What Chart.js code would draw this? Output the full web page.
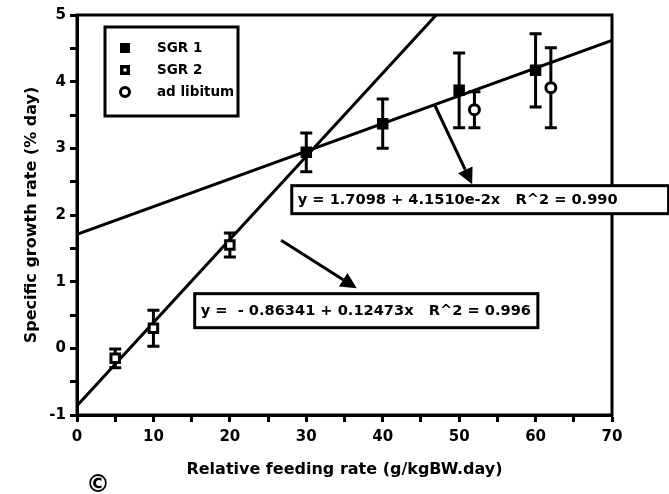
<!DOCTYPE html>
<html>
<head>
<meta charset="utf-8">
<script src="https://cdn.jsdelivr.net/npm/chart.js@4"></script>
<style>
  html, body { margin: 0; padding: 0; background: #fff; }
  #wrap { width: 669px; height: 494px; }
</style>
</head>
<body>
<div id="wrap"><canvas id="chart" width="669" height="494"></canvas></div>
<script>
// values
const sgr1X = [30, 40, 50, 60]
const sgr1Y = [2.94, 3.37, 3.87, 4.17]
const sgr1Err = [0.29, 0.37, 0.56, 0.55]

const sgr2X = [5, 10, 20]
const sgr2Y = [-0.15, 0.3, 1.55]
const sgr2Err = [0.14, 0.27, 0.18]

const adlibX = [52, 62]
const adlibY = [3.58, 3.91]
const adlibErr = [0.27, 0.6]

// regression lines, end points
const fit1X = [0, 70]
const fit1Y = [1.71, 4.62]
const fit2X = [0, 47]
const fit2Y = [-0.86, 5]

const fit1Label = "y = 1.7098 + 4.1510e-2x   R^2 = 0.990"
const fit2Label = "y =  - 0.86341 + 0.12473x   R^2 = 0.996"
const legendLabels = ["SGR 1", "SGR 2", "ad libitum"]

const xTickLabels = [0, 10, 20, 30, 40, 50, 60, 70]
const yTickLabels = [-1, 0, 1, 2, 3, 4, 5]

const FONT = "'DejaVu Sans', 'Liberation Sans', sans-serif"
const pts = (xs, ys) => xs.map((x, i) => ({ x: x, y: ys[i] }))

// draws error bars under the markers
const errorBars = {
  id: "errorBars",
  beforeDatasetsDraw(chart) {
    const ctx = chart.ctx
    const xs = chart.scales.x, ys = chart.scales.y
    ctx.save()
    ctx.strokeStyle = "#000"
    ctx.lineWidth = 3
    chart.data.datasets.forEach((ds) => {
      if (!ds.errors) return
      ds.data.forEach((p, i) => {
        const px = xs.getPixelForValue(p.x)
        const top = ys.getPixelForValue(p.y + ds.errors[i])
        const bot = ys.getPixelForValue(p.y - ds.errors[i])
        ctx.beginPath()
        ctx.moveTo(px, top); ctx.lineTo(px, bot)
        ctx.moveTo(px - 6, top); ctx.lineTo(px + 6, top)
        ctx.moveTo(px - 6, bot); ctx.lineTo(px + 6, bot)
        ctx.stroke()
      })
    })
    ctx.restore()
  },
}

function arrow(ctx, x1, y1, x2, y2) {
  const a = Math.atan2(y2 - y1, x2 - x1)
  const len = 16, w = 8
  const bx = x2 - len * Math.cos(a), by = y2 - len * Math.sin(a)
  ctx.beginPath()
  ctx.moveTo(x1, y1); ctx.lineTo(bx, by)
  ctx.stroke()
  ctx.beginPath()
  ctx.moveTo(x2, y2)
  ctx.lineTo(bx + w * Math.sin(a), by - w * Math.cos(a))
  ctx.lineTo(bx - w * Math.sin(a), by + w * Math.cos(a))
  ctx.closePath()
  ctx.fill()
}

function marker(ctx, kind, x, y) {
  ctx.fillStyle = "#000"
  ctx.strokeStyle = "#000"
  if (kind === 2) {
    ctx.beginPath()
    ctx.arc(x, y, 4.5, 0, Math.PI * 2)
    ctx.fillStyle = "#fff"
    ctx.fill()
    ctx.lineWidth = 3
    ctx.stroke()
    return
  }
  ctx.fillRect(x - 5, y - 5, 10, 10)
  if (kind === 1) {
    ctx.fillStyle = "#fff"
    ctx.fillRect(x - 1.5, y - 1.5, 3, 3)
  }
}

// frame, legend box, equation boxes and arrows
const annotations = {
  id: "annotations",
  afterDraw(chart) {
    const ctx = chart.ctx
    const a = chart.chartArea
    const X = (v) => chart.scales.x.getPixelForValue(v)
    const Y = (v) => chart.scales.y.getPixelForValue(v)
    ctx.save()
    ctx.strokeStyle = "#000"
    ctx.fillStyle = "#000"
    ctx.lineWidth = 3
    ctx.strokeRect(a.left, a.top, a.right - a.left, a.bottom - a.top)

    // legend
    const lx = a.left + 28, ly = a.top + 12
    ctx.fillStyle = "#fff"
    ctx.fillRect(lx, ly, 133, 89)
    ctx.strokeRect(lx, ly, 133, 89)
    ctx.font = "bold 13.5px " + FONT
    ctx.textBaseline = "middle"
    legendLabels.forEach((t, i) => {
      const yy = ly + 21 + i * 22
      marker(ctx, i, lx + 20, yy)
      ctx.fillStyle = "#000"
      ctx.fillText(t, lx + 52, yy)
    })

    // arrows
    ctx.lineWidth = 3
    ctx.strokeStyle = "#000"
    ctx.fillStyle = "#000"
    arrow(ctx, X(46.8), Y(3.65), X(51.7), Y(2.46))
    arrow(ctx, X(26.7), Y(1.62), X(36.6), Y(0.9))

    // equation boxes
    ctx.font = "bold 14.6px " + FONT
    ctx.textBaseline = "middle"
    const box = (x1, x2, y1, y2, label) => {
      const l = X(x1), r = X(x2), t = Y(y1), b = Y(y2)
      ctx.fillStyle = "#fff"
      ctx.fillRect(l, t, r - l, b - t)
      ctx.strokeRect(l, t, r - l, b - t)
      ctx.fillStyle = "#000"
      ctx.fillText(label, l + 6, (t + b) / 2 + 1)
    }
    box(28.1, 77.4, 2.44, 2.02, fit1Label)
    box(15.4, 60.3, 0.82, 0.31, fit2Label)

    ctx.font = "bold 24px " + FONT
    ctx.textBaseline = "top"
    ctx.fillText("\u00A9", 86, 474)
    ctx.restore()
  },
}

const pointDs = (label, xs, ys, errs, style, fill) => ({
  label: label,
  data: pts(xs, ys),
  errors: errs,
  showLine: false,
  pointStyle: style,
  pointRadius: style === "rect" ? 6 : 5,
  pointBackgroundColor: fill,
  pointBorderColor: "#000",
  pointBorderWidth: 3,
  order: 0,
})

const lineDs = (xs, ys) => ({
  data: pts(xs, ys),
  showLine: true,
  borderColor: "#000",
  borderWidth: 3,
  pointRadius: 0,
  order: 1,
})

new Chart(document.getElementById("chart"), {
  type: "scatter",
  data: {
    datasets: [
      lineDs(fit1X, fit1Y),
      lineDs(fit2X, fit2Y),
      pointDs("SGR 1", sgr1X, sgr1Y, sgr1Err, "rect", "#000"),
      pointDs("SGR 2", sgr2X, sgr2Y, sgr2Err, "rect", "#fff"),
      pointDs("ad libitum", adlibX, adlibY, adlibErr, "circle", "#fff"),
    ],
  },
  options: {
    responsive: false,
    animation: false,
    layout: { padding: { left: 20, top: 15, right: 57, bottom: 11 } },
    plugins: { legend: { display: false }, tooltip: { enabled: false } },
    scales: {
      x: {
        type: "linear",
        min: 0,
        max: 70,
        afterFit: (s) => { s.height = 68 },
        border: { display: true, color: "#000", width: 3 },
        grid: { drawOnChartArea: false, drawTicks: true, tickLength: 7, color: "#000", tickWidth: 3 },
        ticks: {
          stepSize: 5,
          autoSkip: false,
          maxRotation: 0,
          padding: 6,
          color: "#000",
          font: { family: FONT, size: 15, weight: "bold" },
          callback: (v) => (xTickLabels.includes(v) ? String(v) : ""),
        },
        title: {
          display: true,
          text: "Relative feeding rate (g/kgBW.day)",
          color: "#000",
          font: { family: FONT, size: 16, weight: "bold" },
          padding: 4,
        },
      },
      y: {
        type: "linear",
        min: -1,
        max: 5,
        afterFit: (s) => { s.width = 57 },
        border: { display: true, color: "#000", width: 3 },
        grid: { drawOnChartArea: false, drawTicks: true, tickLength: 7, color: "#000", tickWidth: 3 },
        ticks: {
          stepSize: 0.5,
          autoSkip: false,
          padding: 4,
          color: "#000",
          font: { family: FONT, size: 15, weight: "bold" },
          callback: (v) => (yTickLabels.includes(v) ? String(v) : ""),
        },
        title: {
          display: true,
          text: "Specific growth rate (% day)",
          color: "#000",
          font: { family: FONT, size: 16, weight: "bold" },
          padding: 2,
        },
      },
    },
  },
  plugins: [errorBars, annotations],
})
</script>
</body>
</html>
